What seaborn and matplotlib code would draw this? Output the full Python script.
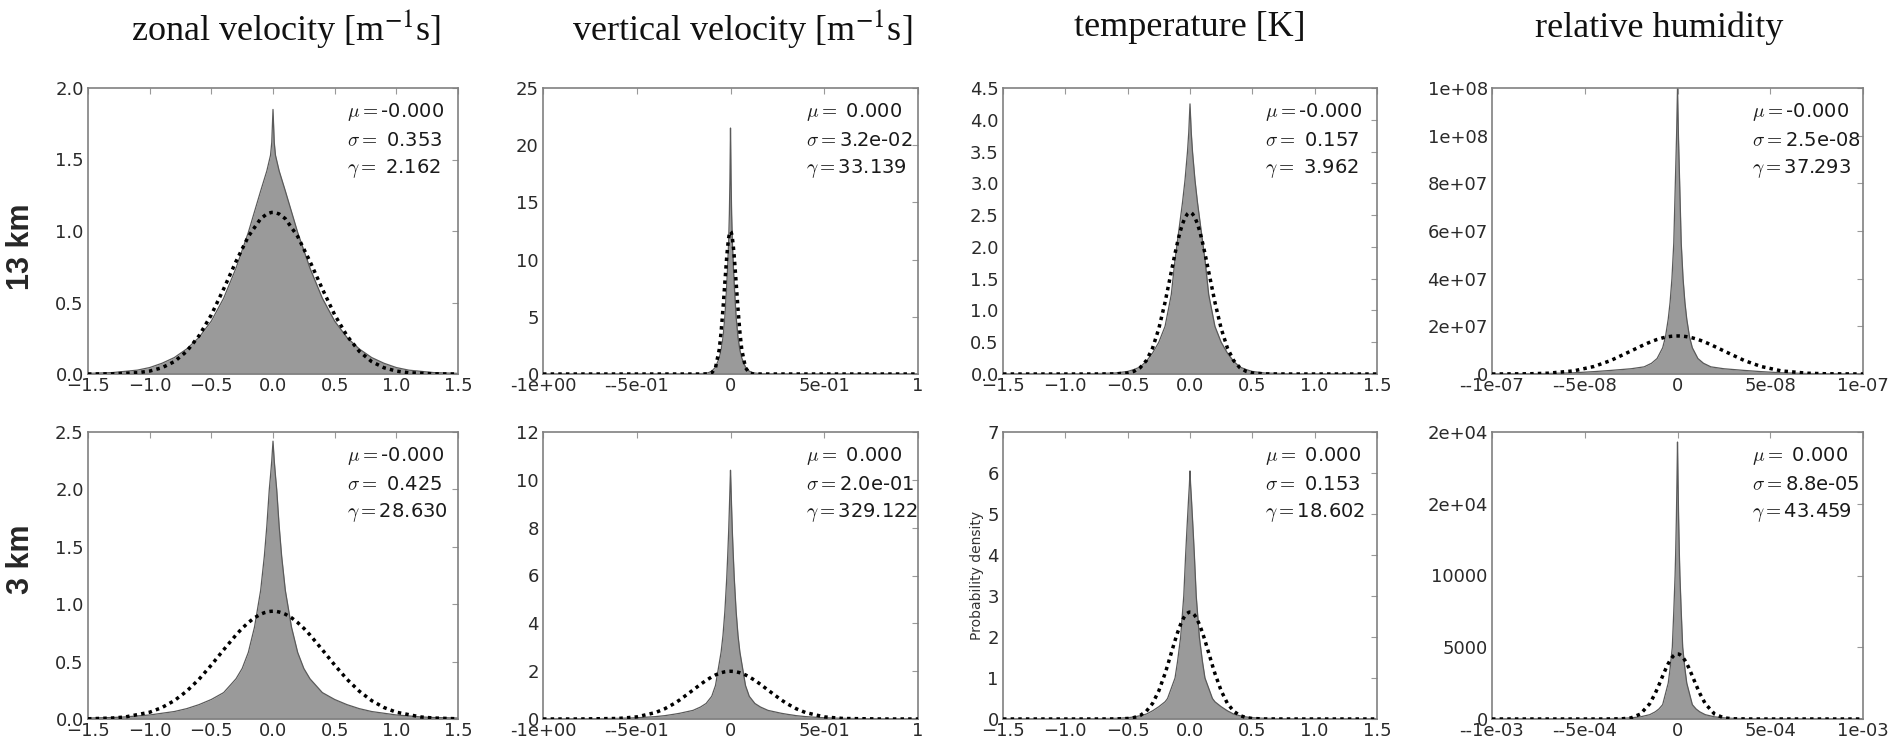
import matplotlib
matplotlib.use("Agg")
import matplotlib.pyplot as plt
import seaborn as sns

# ---------------- data ----------------
titles = ["zonal velocity [m$^{-1}$s]", "vertical velocity [m$^{-1}$s]",
          "temperature [K]", "relative humidity"]
row_labels = ["13 km", "3 km"]

mu_labels = ["-0.000", " 0.000", "-0.000", "-0.000",
             "-0.000", " 0.000", " 0.000", " 0.000"]
sigma_labels = [" 0.353", "3.2e-02", " 0.157", "2.5e-08",
                " 0.425", "2.0e-01", " 0.153", "8.8e-05"]
gamma_labels = [" 2.162", "33.139", " 3.962", "37.293",
                "28.630", "329.122", "18.602", "43.459"]

# 13 km zonal velocity
u13_x = [-1.5, -1.3, -1.1, -1.0, -0.9, -0.8, -0.7, -0.6, -0.5, -0.4, -0.3, -0.2, -0.1, -0.05, -0.02, -0.01,
         0.0, 0.01, 0.02, 0.05, 0.1, 0.2, 0.3, 0.4, 0.5, 0.6, 0.7, 0.8, 0.9, 1.0, 1.1, 1.3, 1.5]
u13_pdf = [0.004, 0.01, 0.027, 0.045, 0.075, 0.115, 0.175, 0.255, 0.37, 0.53, 0.74, 0.99, 1.28, 1.42, 1.53, 1.62,
           1.85, 1.62, 1.53, 1.42, 1.28, 0.99, 0.74, 0.53, 0.37, 0.255, 0.175, 0.115, 0.075, 0.045, 0.027, 0.01, 0.004]
u13_gauss = [0.0001, 0.0013, 0.0088, 0.0204, 0.0438, 0.0867, 0.158, 0.267, 0.414, 0.595, 0.787, 0.962, 1.086, 1.119, 1.128, 1.13,
             1.13, 1.13, 1.128, 1.119, 1.086, 0.962, 0.787, 0.595, 0.414, 0.267, 0.158, 0.0867, 0.0438, 0.0204, 0.0088, 0.0013, 0.0001]

# 13 km vertical velocity
w13_x = [-1.0, -0.5, -0.3, -0.2, -0.15, -0.12, -0.1, -0.08, -0.06, -0.05, -0.04, -0.03, -0.02, -0.015, -0.01, -0.006, -0.003,
         0.0, 0.003, 0.006, 0.01, 0.015, 0.02, 0.03, 0.04, 0.05, 0.06, 0.08, 0.1, 0.12, 0.15, 0.2, 0.3, 0.5, 1.0]
w13_pdf = [0.0, 0.001, 0.004, 0.015, 0.04, 0.1, 0.25, 0.6, 1.4, 2.1, 3.2, 5.0, 7.8, 9.5, 11.5, 14.0, 17.0,
           21.5, 17.0, 14.0, 11.5, 9.5, 7.8, 5.0, 3.2, 2.1, 1.4, 0.6, 0.25, 0.1, 0.04, 0.015, 0.004, 0.001, 0.0]
w13_gauss = [0.0, 0.0, 0.0, 0.0, 0.0002, 0.011, 0.095, 0.55, 2.15, 3.68, 5.71, 8.03, 10.26, 11.17, 11.88, 12.25, 12.42,
             12.47, 12.42, 12.25, 11.88, 11.17, 10.26, 8.03, 5.71, 3.68, 2.15, 0.55, 0.095, 0.011, 0.0002, 0.0, 0.0, 0.0, 0.0]

# 13 km temperature
t13_x = [-1.5, -1.0, -0.8, -0.6, -0.5, -0.45, -0.4, -0.35, -0.3, -0.25, -0.2, -0.15, -0.12, -0.1, -0.08, -0.06, -0.04, -0.02, -0.01,
         0.0, 0.01, 0.02, 0.04, 0.06, 0.08, 0.1, 0.12, 0.15, 0.2, 0.25, 0.3, 0.35, 0.4, 0.45, 0.5, 0.6, 0.8, 1.0, 1.5]
t13_pdf = [0.0, 0.001, 0.003, 0.015, 0.04, 0.07, 0.11, 0.2, 0.33, 0.5, 0.75, 1.25, 1.8, 2.1, 2.4, 2.7, 3.05, 3.5, 3.8,
           4.25, 3.8, 3.5, 3.05, 2.7, 2.4, 2.1, 1.8, 1.25, 0.75, 0.5, 0.33, 0.2, 0.11, 0.07, 0.04, 0.015, 0.003, 0.001, 0.0]
t13_gauss = [0.0, 0.0, 0.0, 0.0017, 0.016, 0.042, 0.099, 0.212, 0.409, 0.715, 1.129, 1.61, 1.897, 2.073, 2.232, 2.362, 2.46, 2.52, 2.536,
             2.541, 2.536, 2.52, 2.46, 2.362, 2.232, 2.073, 1.897, 1.61, 1.129, 0.715, 0.409, 0.212, 0.099, 0.042, 0.016, 0.0017, 0.0, 0.0, 0.0]

# 13 km relative humidity
rh13_x = [-1.0e-07, -8.0e-08, -7.0e-08, -5.6e-08, -4.5e-08, -3.6e-08, -2.5e-08, -1.8e-08, -1.4e-08, -1.1e-08,
          -8.0e-09, -6.5e-09, -5.0e-09, -4.0e-09, -3.0e-09, -2.0e-09, -1.0e-09, -5.0e-10,
          0.0, 5.0e-10, 1.0e-09, 2.0e-09, 3.0e-09, 4.0e-09, 5.0e-09, 6.5e-09, 8.0e-09,
          1.1e-08, 1.4e-08, 1.8e-08, 2.5e-08, 3.6e-08, 4.5e-08, 5.6e-08, 7.0e-08, 8.0e-08, 1.0e-07]
rh13_pdf = [0.05e6, 0.12e6, 0.2e6, 0.5e6, 1.0e6, 1.5e6, 2.2e6, 3.0e6, 4.5e6, 6.5e6,
            11e6, 15.5e6, 23e6, 30e6, 40e6, 55e6, 85e6, 100e6,
            120e6, 100e6, 85e6, 55e6, 40e6, 30e6, 23e6, 15.5e6, 11e6,
            6.5e6, 4.5e6, 3.0e6, 2.2e6, 1.5e6, 1.0e6, 0.5e6, 0.2e6, 0.12e6, 0.05e6]
rh13_gauss = [0.005e6, 0.095e6, 0.32e6, 1.30e6, 3.16e6, 5.66e6, 9.68e6, 12.31e6, 13.64e6, 14.49e6,
              15.16e6, 15.43e6, 15.64e6, 15.76e6, 15.85e6, 15.91e6, 15.95e6, 15.96e6,
              15.96e6, 15.96e6, 15.95e6, 15.91e6, 15.85e6, 15.76e6, 15.64e6, 15.43e6, 15.16e6,
              14.49e6, 13.64e6, 12.31e6, 9.68e6, 5.66e6, 3.16e6, 1.30e6, 0.32e6, 0.095e6, 0.005e6]

# 3 km zonal velocity
u3_x = [-1.5, -1.3, -1.2, -1.0, -0.9, -0.8, -0.7, -0.6, -0.5, -0.4, -0.3, -0.25, -0.2, -0.15, -0.1, -0.07, -0.05, -0.03, -0.02, -0.01,
        0.0, 0.01, 0.02, 0.03, 0.05, 0.07, 0.1, 0.15, 0.2, 0.25, 0.3, 0.4, 0.5, 0.6, 0.7, 0.8, 0.9, 1.0, 1.2, 1.3, 1.5]
u3_pdf = [0.008, 0.013, 0.018, 0.035, 0.05, 0.065, 0.09, 0.125, 0.17, 0.23, 0.35, 0.44, 0.58, 0.8, 1.12, 1.42, 1.68, 2.0, 2.12, 2.25,
          2.42, 2.25, 2.12, 2.0, 1.68, 1.42, 1.12, 0.8, 0.58, 0.44, 0.35, 0.23, 0.17, 0.125, 0.09, 0.065, 0.05, 0.035, 0.018, 0.013, 0.008]
u3_gauss = [0.0019, 0.0087, 0.0174, 0.059, 0.100, 0.160, 0.242, 0.346, 0.470, 0.603, 0.732, 0.790, 0.840, 0.882, 0.913, 0.926, 0.932, 0.9364, 0.9377, 0.9384,
            0.9387, 0.9384, 0.9377, 0.9364, 0.932, 0.926, 0.913, 0.882, 0.840, 0.790, 0.732, 0.603, 0.470, 0.346, 0.242, 0.160, 0.100, 0.059, 0.0174, 0.0087, 0.0019]

# 3 km vertical velocity
w3_x = [-1.0, -0.8, -0.6, -0.5, -0.4, -0.35, -0.3, -0.27, -0.2, -0.16, -0.13, -0.1, -0.08, -0.065, -0.05, -0.04, -0.03, -0.02, -0.015, -0.01, -0.006, -0.003,
        0.0, 0.003, 0.006, 0.01, 0.015, 0.02, 0.03, 0.04, 0.05, 0.065, 0.08, 0.1, 0.13, 0.16, 0.2, 0.27, 0.3, 0.35, 0.4, 0.5, 0.6, 0.8, 1.0]
w3_pdf = [0.003, 0.008, 0.025, 0.05, 0.1, 0.14, 0.2, 0.24, 0.36, 0.5, 0.65, 0.95, 1.4, 2.1, 2.8, 3.5, 4.5, 5.9, 6.8, 7.8, 8.8, 9.6,
          10.4, 9.6, 8.8, 7.8, 6.8, 5.9, 4.5, 3.5, 2.8, 2.1, 1.4, 0.95, 0.65, 0.5, 0.36, 0.24, 0.2, 0.14, 0.1, 0.05, 0.025, 0.008, 0.003]
w3_gauss = [0.0, 0.0007, 0.022, 0.088, 0.270, 0.431, 0.647, 0.802, 1.210, 1.449, 1.615, 1.760, 1.842, 1.892, 1.934, 1.955, 1.973, 1.985, 1.989, 1.992, 1.994, 1.995,
            1.995, 1.995, 1.994, 1.992, 1.989, 1.985, 1.973, 1.955, 1.934, 1.892, 1.842, 1.760, 1.615, 1.449, 1.210, 0.802, 0.647, 0.431, 0.270, 0.088, 0.022, 0.0007, 0.0]

# 3 km temperature
t3_x = [-1.5, -1.0, -0.8, -0.6, -0.5, -0.45, -0.4, -0.35, -0.3, -0.25, -0.2, -0.18, -0.15, -0.12, -0.1, -0.075, -0.05, -0.035, -0.025, -0.01, -0.005,
        0.0, 0.005, 0.01, 0.025, 0.035, 0.05, 0.075, 0.1, 0.12, 0.15, 0.18, 0.2, 0.25, 0.3, 0.35, 0.4, 0.45, 0.5, 0.6, 0.8, 1.0, 1.5]
t3_pdf = [0.0005, 0.002, 0.005, 0.015, 0.03, 0.05, 0.08, 0.12, 0.2, 0.3, 0.42, 0.5, 0.75, 1.0, 1.4, 2.0, 3.0, 4.0, 4.6, 5.45, 5.7,
          6.05, 5.7, 5.45, 4.6, 4.0, 3.0, 2.0, 1.4, 1.0, 0.75, 0.5, 0.42, 0.3, 0.2, 0.12, 0.08, 0.05, 0.03, 0.015, 0.005, 0.002, 0.0005]
t3_gauss = [0.0, 0.0, 0.0, 0.0012, 0.0125, 0.0345, 0.085, 0.190, 0.381, 0.688, 1.110, 1.305, 1.613, 1.916, 2.106, 2.312, 2.471, 2.540, 2.572, 2.601, 2.606,
            2.607, 2.606, 2.601, 2.572, 2.540, 2.471, 2.312, 2.106, 1.916, 1.613, 1.305, 1.110, 0.688, 0.381, 0.190, 0.085, 0.0345, 0.0125, 0.0012, 0.0, 0.0, 0.0]

# 3 km relative humidity
rh3_x = [-1.0e-03, -5.0e-04, -4.0e-04, -3.0e-04, -2.5e-04, -2.0e-04, -1.5e-04, -1.2e-04, -1.0e-04, -8.0e-05,
         -6.0e-05, -5.0e-05, -4.0e-05, -2.8e-05, -2.0e-05, -1.3e-05, -1.0e-05, -6.0e-06, -3.0e-06,
         0.0, 3.0e-06, 6.0e-06, 1.0e-05, 1.3e-05, 2.0e-05, 2.8e-05, 4.0e-05, 5.0e-05, 6.0e-05,
         8.0e-05, 1.0e-04, 1.2e-04, 1.5e-04, 2.0e-04, 2.5e-04, 3.0e-04, 4.0e-04, 5.0e-04, 1.0e-03]
rh3_pdf = [0, 10, 20, 40, 80, 150, 300, 500, 700, 1000,
           2000, 2500, 3500, 5000, 7500, 10000, 11500, 14000, 16500,
           19300, 16500, 14000, 11500, 10000, 7500, 5000, 3500, 2500, 2000,
           1000, 700, 500, 300, 150, 80, 40, 20, 10, 0]
rh3_gauss = [0, 0, 0.15, 13.5, 80, 343, 1060, 1788, 2375, 3000,
             3593, 3858, 4088, 4309, 4418, 4484, 4504, 4522, 4531,
             4533, 4531, 4522, 4504, 4484, 4418, 4309, 4088, 3858, 3593,
             3000, 2375, 1788, 1060, 343, 80, 13.5, 0.15, 0, 0]

panels = [
    (u13_x, u13_pdf, u13_gauss), (w13_x, w13_pdf, w13_gauss),
    (t13_x, t13_pdf, t13_gauss), (rh13_x, rh13_pdf, rh13_gauss),
    (u3_x, u3_pdf, u3_gauss), (w3_x, w3_pdf, w3_gauss),
    (t3_x, t3_pdf, t3_gauss), (rh3_x, rh3_pdf, rh3_gauss),
]

lin_xticks = [-1.5, -1.0, -0.5, 0.0, 0.5, 1.0, 1.5]
lin_xlabels = ["\u22121.5", "\u22121.0", "\u22120.5", "0.0", "0.5", "1.0", "1.5"]
w_xticks = [-1.0, -0.5, 0.0, 0.5, 1.0]
w_xlabels = ["-1e+00", "--5e-01", "0", "5e-01", "1"]
rh13_xticks = [-1e-07, -5e-08, 0.0, 5e-08, 1e-07]
rh13_xlabels = ["--1e-07", "--5e-08", "0", "5e-08", "1e-07"]
rh3_xticks = [-1e-03, -5e-04, 0.0, 5e-04, 1e-03]
rh3_xlabels = ["--1e-03", "--5e-04", "0", "5e-04", "1e-03"]

yticks = [
    [0.0, 0.5, 1.0, 1.5, 2.0],
    [0, 5, 10, 15, 20, 25],
    [0.0, 0.5, 1.0, 1.5, 2.0, 2.5, 3.0, 3.5, 4.0, 4.5],
    [0, 2e7, 4e7, 6e7, 8e7, 1e8, 1.2e8],
    [0.0, 0.5, 1.0, 1.5, 2.0, 2.5],
    [0, 2, 4, 6, 8, 10, 12],
    [0, 1, 2, 3, 4, 5, 6, 7],
    [0, 5000, 10000, 15000, 20000],
]
ylabels = [
    ["0.0", "0.5", "1.0", "1.5", "2.0"],
    ["0", "5", "10", "15", "20", "25"],
    ["0.0", "0.5", "1.0", "1.5", "2.0", "2.5", "3.0", "3.5", "4.0", "4.5"],
    ["0", "2e+07", "4e+07", "6e+07", "8e+07", "1e+08", "1e+08"],
    ["0.0", "0.5", "1.0", "1.5", "2.0", "2.5"],
    ["0", "2", "4", "6", "8", "10", "12"],
    ["0", "1", "2", "3", "4", "5", "6", "7"],
    ["0", "5000", "10000", "2e+04", "2e+04"],
]
xticks = [lin_xticks, w_xticks, lin_xticks, rh13_xticks, lin_xticks, w_xticks, lin_xticks, rh3_xticks]
xlabels = [lin_xlabels, w_xlabels, lin_xlabels, rh13_xlabels, lin_xlabels, w_xlabels, lin_xlabels, rh3_xlabels]

# ---------------- figure ----------------
sns.set_style("white")
plt.rcParams["font.family"] = ["DejaVu Sans"]

W, H = 1893, 745
fig = plt.figure(figsize=(W / 100, H / 100), dpi=100)
fig.patch.set_facecolor("white")

cols = [(88, 458), (543, 918), (1003, 1377), (1492, 1863)]
rows = [(88, 374), (432, 719)]
title_cx = [286, 742, 1190, 1659]

for i, (xs, pdf, gauss) in enumerate(panels):
    r, c = divmod(i, 4)
    (l, rr), (t, b) = cols[c], rows[r]
    ax = fig.add_axes([l / W, 1 - b / H, (rr - l) / W, (b - t) / H])
    ax.set_facecolor("white")

    ax.fill_between(xs, 0, pdf, color="#9a9a9a", linewidth=0, zorder=1)
    sns.lineplot(x=xs, y=pdf, ax=ax, color="#5a5a5a", lw=0.9, errorbar=None, zorder=2)
    sns.lineplot(x=xs, y=gauss, ax=ax, color="black", lw=2.5,
                 linestyle=(0, (1, 1.2)), errorbar=None, zorder=3)

    ax.set_xlim(xticks[i][0], xticks[i][-1])
    ax.set_ylim(yticks[i][0], yticks[i][-1])
    ax.set_xticks(xticks[i])
    ax.set_xticklabels(xlabels[i])
    ax.set_yticks(yticks[i])
    ax.set_yticklabels(ylabels[i])
    ax.set_xlabel("")
    ax.set_ylabel("")
    ax.tick_params(direction="in", length=4, width=0.8, color="#999999",
                   labelcolor="#2a2a2a", labelsize=13, top=True, right=True)
    ax.tick_params(axis="x", pad=2)
    ax.tick_params(axis="y", pad=3)
    for s in ax.spines.values():
        s.set_color("#808080")
        s.set_linewidth(1.2)
        s.set_visible(True)

    for k, (sym, val) in enumerate(zip([r"$\mu=$", r"$\sigma=$", r"$\gamma=$"],
                                       [mu_labels[i], sigma_labels[i], gamma_labels[i]])):
        ax.text(0.70, 0.916 - 0.098 * k, sym + val, transform=ax.transAxes,
                ha="left", va="center", fontsize=14, color="#1a1a1a",
                math_fontfamily="cm", zorder=5)

for c in range(4):
    fig.text(title_cx[c] / W, 1 - 28 / H, titles[c], ha="center", va="center",
             fontsize=26, family="Liberation Serif", math_fontfamily="stix", color="#111111")

fig.text(21 / W, 1 - 247 / H, row_labels[0], rotation=90, ha="center", va="center",
         fontsize=22, fontweight="bold", family="Liberation Sans")
fig.text(21 / W, 1 - 559 / H, row_labels[1], rotation=90, ha="center", va="center",
         fontsize=22, fontweight="bold", family="Liberation Sans")

fig.text(977 / W, 1 - 575 / H, "Probability density", rotation=90, ha="center", va="center",
         fontsize=10, color="#333333")

fig.savefig("out.png", dpi=100, facecolor="white")
